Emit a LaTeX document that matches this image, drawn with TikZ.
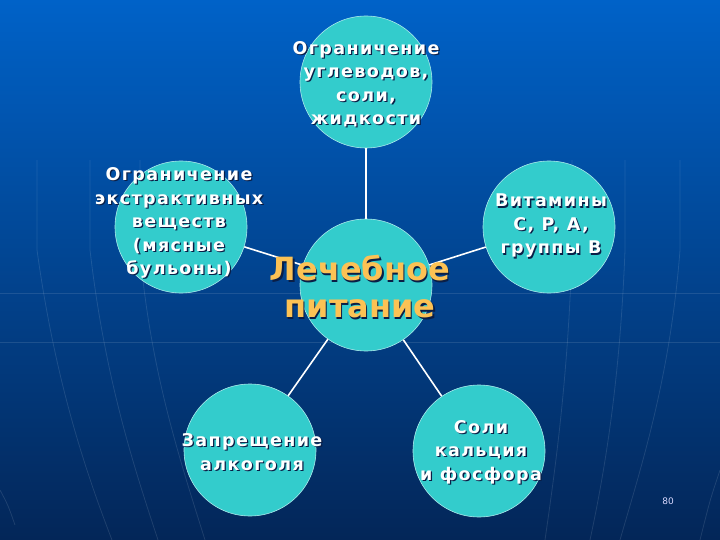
\documentclass[tikz,border=0pt]{standalone}
\usepackage{fontspec}
\setmainfont{DejaVu Sans}
\newfontfamily\lblfont{DejaVu Sans}[LetterSpace=8]
\usetikzlibrary{shapes}

\definecolor{bgtop}{RGB}{0,98,200}
\definecolor{bgmid}{RGB}{6,72,160}
\definecolor{bgbot}{RGB}{3,38,88}
\definecolor{turq}{RGB}{51,204,204}
\definecolor{rimc}{RGB}{170,235,235}
\definecolor{orng}{RGB}{252,194,84}
\definecolor{shdc}{RGB}{10,30,70}

% text with a dark drop shadow
\newcommand\shlabel[4]{%
  \node[txt,#3,text=shdc,xshift=1.3pt,yshift=-1.3pt] (#1s) at (#2) {#4};
  \node[txt,#3] (#1) at (#2) {#4};}

\begin{document}
\begin{tikzpicture}[x=1pt,y=-1pt,
  bub/.style={circle,fill=turq,draw=rimc,line width=.6pt,minimum size=132pt,inner sep=0pt},
  link/.style={draw=white,line width=1.6pt},
  txt/.style={align=center,text=white,inner sep=0pt},
  smtxt/.style={font=\lblfont\bfseries\fontsize{17.5}{23.5}\selectfont},
  bigtxt/.style={font=\bfseries\fontsize{32}{37}\selectfont,text=orng},
  grid/.style={white,opacity=.11,line width=.8pt}
]
%background
\useasboundingbox (0,0) rectangle (720,540);
\shade[top color=bgtop,middle color=bgmid,bottom color=bgbot] (0,0) rectangle (720,540);

\draw[grid] (0,293) -- (720,293);
\draw[grid] (0,342) -- (720,342);
\draw[grid] (37,160) -- (37,250) .. controls (55,380) and (85,470) .. (112,540);
\draw[grid] (90,160) -- (90,250) .. controls (105,380) and (135,470) .. (158,540);
\draw[grid] (140,160) -- (140,250) .. controls (150,370) and (180,460) .. (205,540);
\draw[grid] (0,490) .. controls (8,505) .. (15,525);
\draw[grid] (572,160) -- (572,250) .. controls (568,380) and (555,470) .. (545,540);
\draw[grid] (625,160) -- (625,250) .. controls (620,380) and (605,470) .. (590,540);
\draw[grid] (680,160) -- (680,250) .. controls (670,380) and (640,470) .. (620,540);
\draw[grid] (720,470) .. controls (710,500) .. (700,540);

% bubbles
\node[bub] (top) at (366,82) {};
\node[bub] (lft) at (181,227) {};
\node[bub] (mid) at (366,285) {};
\node[bub] (rgt) at (549,227) {};
\node[bub] (blf) at (250,450) {};
\node[bub] (brt) at (479,451) {};

\foreach \n in {top,lft,rgt,blf,brt}
  \draw[link] (mid) -- (\n);

% texts
\shlabel{topt}{366,84}{smtxt}{Ограничение\\углеводов,\\соли,\\жидкости}
\shlabel{lftt}{179,223}{smtxt}{Ограничение\\экстрактивных\\веществ\\(мясные\\бульоны)}
\shlabel{midt}{360,287}{bigtxt}{Лечебное\\питание}
\shlabel{rgtt}{551,226}{smtxt}{Витамины\\C, P, A,\\группы B}
\shlabel{blft}{252,452}{smtxt}{Запрещение\\алкоголя}
\shlabel{brtt}{481,452}{smtxt}{Соли\\кальция\\и фосфора}

\node[text=white!85!blue,font=\fontsize{9}{10}\selectfont] (pg) at (668,501) {80};
\end{tikzpicture}
\end{document}
